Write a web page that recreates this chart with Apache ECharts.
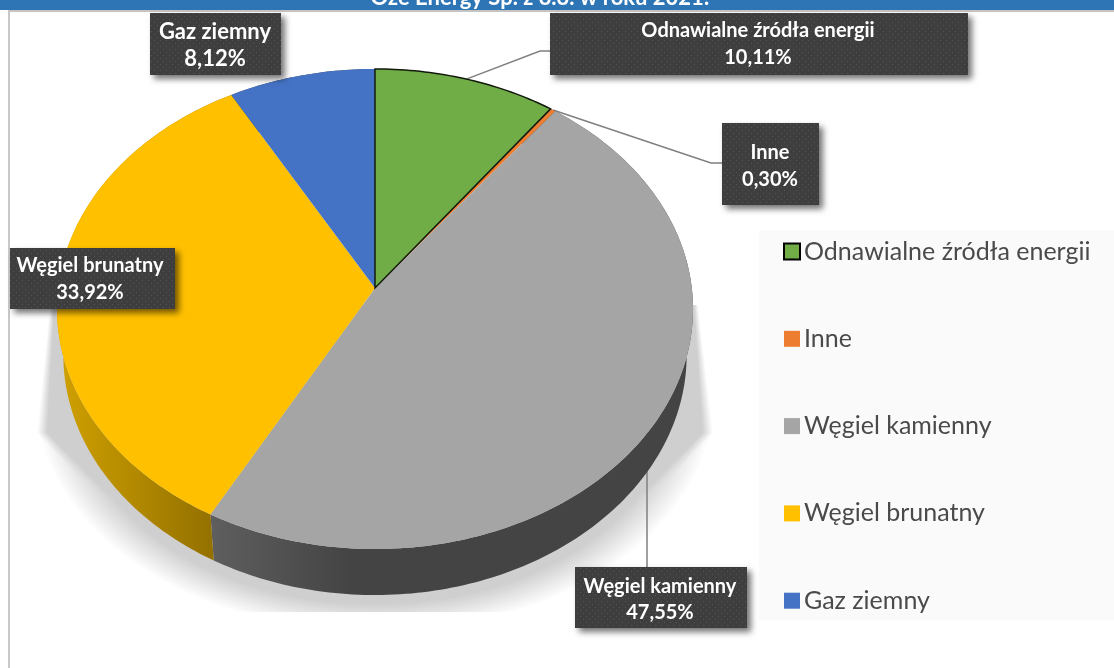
<!DOCTYPE html>
<html><head><meta charset="utf-8">
<style>html,body{margin:0;padding:0;background:#fff}#c{width:1114px;height:668px}</style>
<script src="https://cdn.jsdelivr.net/npm/echarts@6/dist/echarts.min.js"></script>
</head><body><div id="c"></div>
<script>
var titleText = 'Oze Energy Sp. z o.o. w roku 2021:';
var categories = ['Odnawialne źródła energii', 'Inne', 'Węgiel kamienny', 'Węgiel brunatny', 'Gaz ziemny'];
var shares = [10.11, 0.30, 47.55, 33.92, 8.12];
var topColors = ['#70ad47', '#ed7d31', '#a5a5a5', '#ffc000', '#4472c4'];

// Look of the tilted disc
var cx = 375, apexY = 288, tiltA = 316.8, tiltB = 238.2, tiltK = 0.0875, depth = 46, baseScale = 0.98;
// Callout boxes, in category order
var boxes = [
  {x:550, y:13, w:418, h:62, tx:758, ty:[31,58], fs:20, elbow:[[540,51],[550,51]]},
  {x:722, y:123, w:97, h:82, tx:770, ty:[153,180], fs:20, elbow:[[711,163],[722,163]]},
  {x:575, y:567, w:172, h:61, tx:660, ty:[587,613], fs:20, elbow:[[647,567]], startX:647},
  {x:10, y:248, w:165, h:61, tx:90, ty:[266,293], fs:20, elbow:null},
  {x:150, y:13, w:131, h:62, tx:215, ty:[32,59], fs:22, elbow:null}
];

var total = shares.reduce(function(a,b){return a+b;},0);
var cum = [0];
shares.forEach(function(v,i){cum.push(cum[i]+v);});
function ang(p){return p/total*2*Math.PI;}
function proj(t){
  var X=Math.sin(t),Y=Math.cos(t),w=1+tiltK*Y;
  return [cx+tiltA*X/w, apexY-tiltB*Y/w];
}
function projBase(t){
  var p=proj(t);
  return [cx+(p[0]-cx)*baseScale, p[1]+depth];
}
function arc(a0,a1,f){
  var pts=[],n=Math.max(2,Math.ceil((a1-a0)/(Math.PI/180)));
  for(var i=0;i<=n;i++){pts.push(f(a0+(a1-a0)*i/n));}
  return pts;
}
function grad(x0,x1,stops){
  return new echarts.graphic.LinearGradient(x0,0,x1,0,stops,true);
}
var wallFills = [
  '#4a4a4a','#4a4a4a',
  grad(212,350,[{offset:0,color:'#5e5e5e'},{offset:1,color:'#444444'}]),
  grad(60,214,[{offset:0,color:'#cfa000'},{offset:1,color:'#937000'}]),
  '#4a4a4a'
];
var pc=document.createElement('canvas');pc.width=6;pc.height=6;
var g=pc.getContext('2d');g.fillStyle='#3e3e3e';g.fillRect(0,0,6,6);
g.fillStyle='#555555';g.fillRect(1,1,1,1);g.fillRect(4,4,1,1);

var shadowLayers=16, shadowFloor=612;
function shadowShape(grow){
  var rx=318+grow, ry=218.5+grow*0.675, inset=(20-grow)*0.25, thr=33+(20-grow)*1.8;
  var pts=[[50+inset*0.4,305],[37+inset,433]];
  for(var i=0;i<=96;i++){
    var t=Math.PI*i/96, dy=Math.sin(t)*ry;
    if(dy<thr)continue;
    pts.push([375-Math.cos(t)*rx, Math.min(shadowFloor,400+dy)]);
  }
  pts.push([713-inset,433],[698-inset*0.4,305]);
  return pts;
}

var series=[];
// Ground shadow: stacked translucent outlines give the soft edge
series.push({
  type:'custom',name:'cień',coordinateSystem:'none',z:1,silent:true,data:[0],
  renderItem:function(){
    var kids=[];
    for(var i=0;i<shadowLayers;i++){
      var u=i/(shadowLayers-1);
      kids.push({type:'polygon',shape:{points:shadowShape(20-40*u)},style:{fill:'rgba(0,0,0,0.0135)'}});
    }
    return {type:'group',children:kids};
  }
});
// Leaders, drawn behind the disc
series.push({
  type:'custom',name:'linie',coordinateSystem:'none',z:2,silent:true,data:categories.map(function(c,i){return i;}),
  renderItem:function(p,api){
    var i=api.value(0),b=boxes[i];
    if(!b.elbow)return {type:'group',children:[]};
    var s=proj(ang((cum[i]+cum[i+1])/2));
    if(b.startX)s=[b.startX,s[1]];
    return {type:'polyline',shape:{points:[s].concat(b.elbow)},style:{fill:null,stroke:'#7f7f7f',lineWidth:1.5}};
  }
});
// Side walls
series.push({
  type:'custom',name:'ściana',coordinateSystem:'none',z:3,silent:true,data:categories.map(function(c,i){return i;}),
  renderItem:function(p,api){
    var i=api.value(0),a0=ang(cum[i]),a1=ang(cum[i+1]);
    var pts=arc(a0,a1,proj).concat(arc(a0,a1,projBase).reverse());
    return {type:'polygon',shape:{points:pts},style:{fill:wallFills[i]}};
  }
});
// Slices
categories.forEach(function(name,i){
  series.push({
    type:'custom',name:name,coordinateSystem:'none',z:i===0?5:4,silent:true,
    itemStyle:{color:topColors[i]},data:[shares[i]],
    renderItem:function(){
      var pts=[[cx,apexY]].concat(arc(ang(cum[i]),ang(cum[i+1]),proj));
      return {type:'polygon',shape:{points:pts},
        style:{fill:topColors[i],stroke:i===0?'#121a0c':null,lineWidth:i===0?1.5:0}};
    }
  });
});
// Callouts
series.push({
  type:'custom',name:'etykiety',coordinateSystem:'none',z:6,silent:true,data:categories.map(function(c,i){return i;}),
  renderItem:function(p,api){
    var i=api.value(0),b=boxes[i];
    var pct=shares[i].toFixed(2).replace('.',',')+'%';
    var font='bold '+b.fs+'px Lato';
    return {type:'group',children:[
      {type:'rect',shape:{x:b.x,y:b.y,width:b.w,height:b.h},
       style:{fill:{image:pc,repeat:'repeat'},shadowColor:'rgba(0,0,0,0.55)',shadowBlur:6,shadowOffsetX:4,shadowOffsetY:4}},
      {type:'text',style:{text:categories[i],x:b.tx,y:b.ty[0],fill:'#ffffff',font:font,align:'center',verticalAlign:'middle'}},
      {type:'text',style:{text:pct,x:b.tx,y:b.ty[1],fill:'#ffffff',font:font,align:'center',verticalAlign:'middle'}}
    ]};
  }
});

var chart=echarts.init(document.getElementById('c'),null,{renderer:'canvas'});
chart.setOption({
  animation:false,
  backgroundColor:'#ffffff',
  title:{text:titleText,left:540,textAlign:'center',top:-13,padding:0,z:8,
    textStyle:{color:'#ffffff',fontFamily:'Lato',fontWeight:'bold',fontSize:22}},
  graphic:[
    {type:'rect',z:0,shape:{x:759,y:230,width:355,height:390},style:{fill:'#fafafa'}},
    {type:'rect',z:7,shape:{x:0,y:0,width:1114,height:10},style:{fill:'#2e75b6'}},
    {type:'rect',z:0,shape:{x:8,y:10,width:1106,height:2},style:{fill:'#c4c4c4'}},
    {type:'rect',z:0,shape:{x:8,y:10,width:2,height:658},style:{fill:'#c8c8c8'}}
  ],
  legend:{
    orient:'vertical',left:783,top:239,padding:0,itemWidth:16,itemHeight:16,itemGap:62.3,
    selectedMode:false,icon:'rect',z:7,
    textStyle:{color:'#4a4a4a',fontFamily:'Lato',fontSize:25,padding:[0,0,0,-1]},
    data:categories.map(function(n,i){
      var d={name:n,itemStyle:{color:topColors[i]}};
      if(i===0){d.itemStyle={color:topColors[i],borderColor:'#000000',borderWidth:2};}
      return d;
    })
  },
  series:series
});
</script></body></html>
